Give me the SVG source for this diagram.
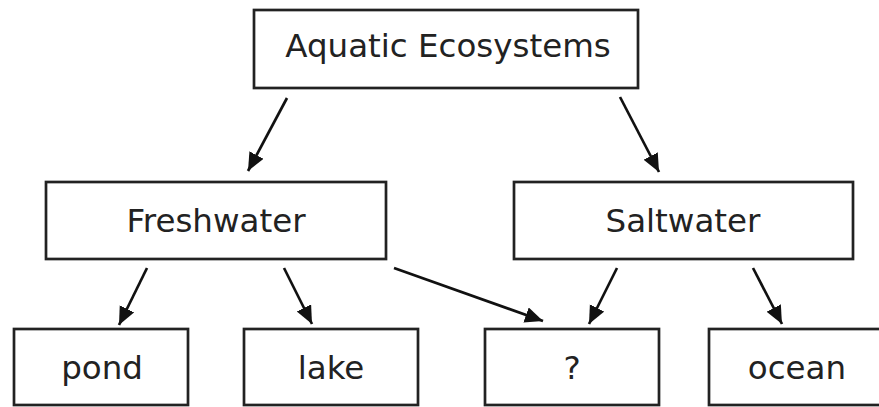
<svg xmlns="http://www.w3.org/2000/svg" width="879" height="407" viewBox="0 0 879 407">
<defs>
<style>
.box{fill:#fff;stroke:#222;stroke-width:2.7}
.lbl{font-family:"DejaVu Sans",Verdana,sans-serif;font-size:32.5px;fill:#222;text-anchor:middle}
.edge{stroke:#111;stroke-width:2.7;fill:none;marker-end:url(#ah)}
</style>
<marker id="ah" markerUnits="userSpaceOnUse" markerWidth="22" markerHeight="18" refX="18" refY="8" orient="auto">
<path d="M0,0 L18,8 L0,16 z" fill="#111"/>
</marker>
</defs>
<rect width="879" height="407" fill="#fff"/>
<g id="aquatic"><rect class="box" x="254" y="10" width="384" height="78"/><text class="lbl" x="448" y="57">Aquatic Ecosystems</text></g>
<g id="freshwater"><rect class="box" x="46" y="182" width="340" height="77"/><text class="lbl" x="216" y="232">Freshwater</text></g>
<g id="saltwater"><rect class="box" x="514" y="182" width="339" height="77"/><text class="lbl" x="683" y="232">Saltwater</text></g>
<g id="pond"><rect class="box" x="14" y="329" width="174" height="76"/><text class="lbl" x="102" y="379">pond</text></g>
<g id="lake"><rect class="box" x="244" y="329" width="174" height="76"/><text class="lbl" x="331" y="379">lake</text></g>
<g id="unknown"><rect class="box" x="485" y="329" width="174" height="76"/><text class="lbl" x="572" y="379">?</text></g>
<g id="ocean"><rect class="box" x="709" y="329" width="172" height="76"/><text class="lbl" x="797" y="379">ocean</text></g>
<g id="connectors">
<line class="edge" x1="287" y1="98" x2="248" y2="171"/>
<line class="edge" x1="620" y1="97" x2="659" y2="172"/>
<line class="edge" x1="147" y1="268" x2="119" y2="325"/>
<line class="edge" x1="284" y1="268" x2="312" y2="324"/>
<line class="edge" x1="394" y1="268" x2="543" y2="321"/>
<line class="edge" x1="617" y1="268" x2="589" y2="324"/>
<line class="edge" x1="753" y1="268" x2="782" y2="324"/>
</g>
</svg>
